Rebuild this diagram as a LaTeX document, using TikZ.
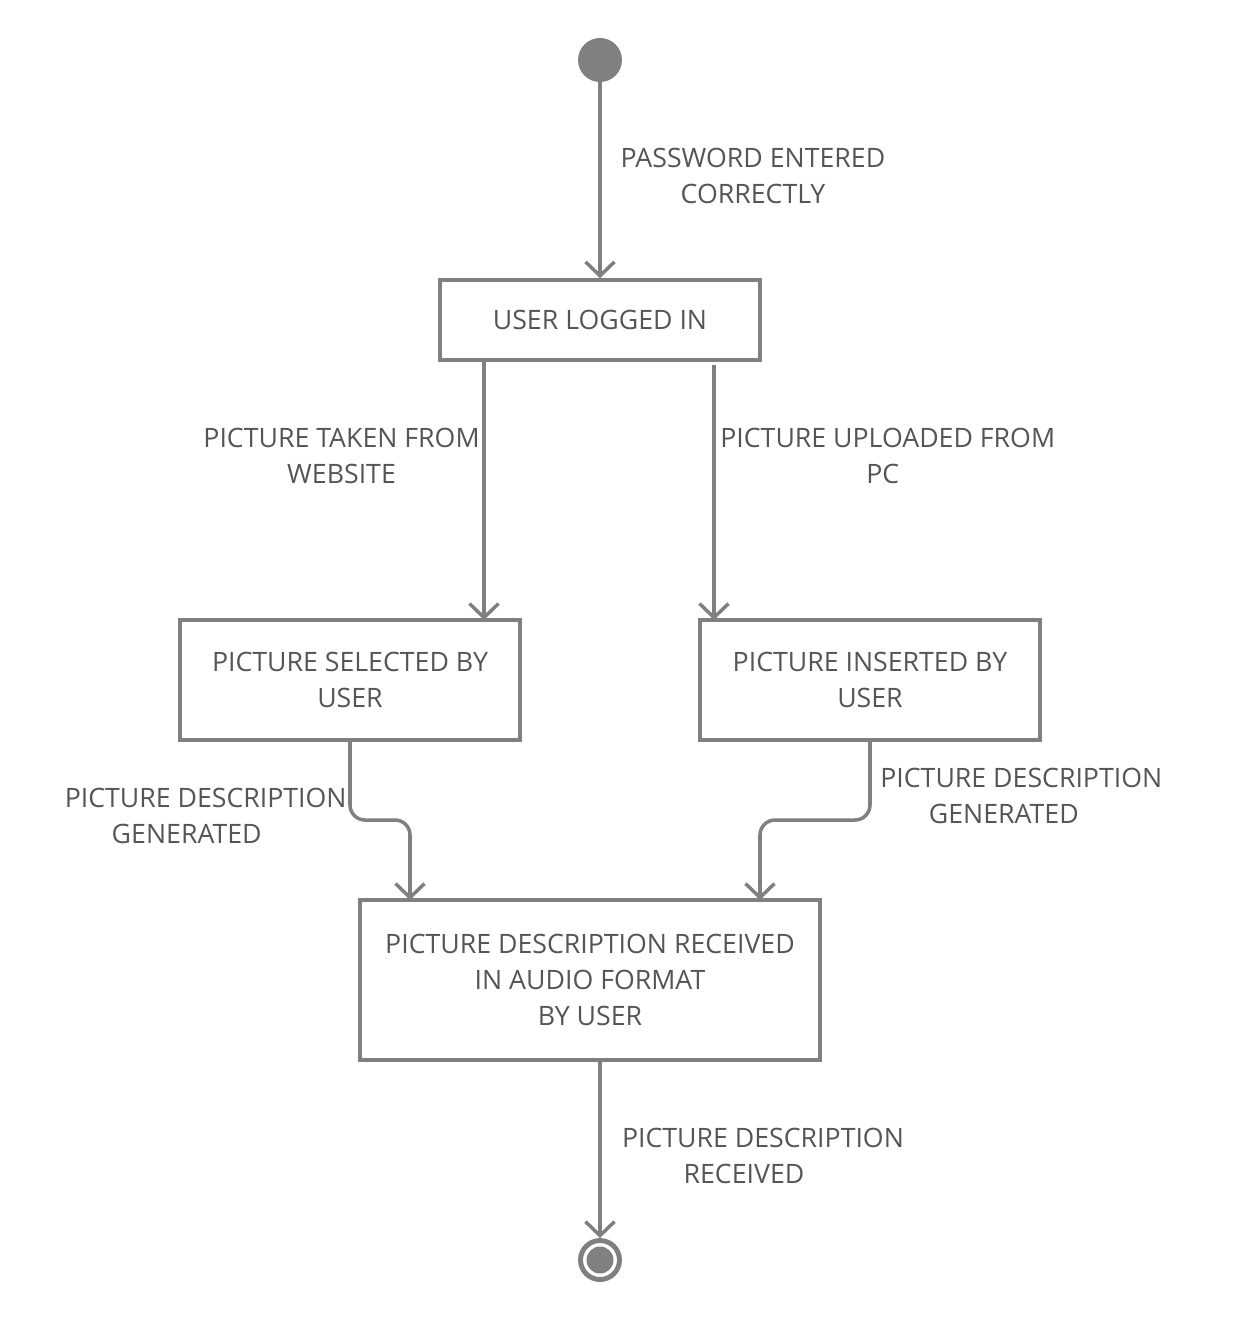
\documentclass[tikz,border=0pt]{standalone}
\usepackage{fontspec}
\setmainfont{Open Sans}
\usepackage{tikz}
\usetikzlibrary{arrows.meta}
\usetikzlibrary{positioning}
\definecolor{linegray}{HTML}{808080}
\definecolor{textgray}{HTML}{555555}
\tikzset{
    state/.style={
           rectangle,
           draw=linegray, line width=2pt,
           inner sep=2pt,
           text=textgray,
           align=center,
           font=\fontsize{15.2}{20.4}\selectfont,
           },
}
\tikzset{
    guard/.style={
           text=textgray,
           align=center,
           inner sep=0pt,
           font=\fontsize{15.2}{20.4}\selectfont,
           },
}
\tikzset{
    flow/.style={
           draw=linegray, line width=2pt,
           -{Straight Barb[length=0.28cm,width=0.58cm,line width=2pt]},
           },
}
\begin{document}
\begin{tikzpicture}[x=0.02cm,y=-0.02cm]
\useasboundingbox (0,0) rectangle (1241,1320);
\node[circle,fill=linegray,minimum size=0.88cm,inner sep=0pt](start) at (600,60){};
\node[state,minimum width=6.4cm,minimum height=1.6cm](login) at (600,320){USER LOGGED IN};
\node[state,minimum width=6.8cm,minimum height=2.4cm](sel) at (350,680){PICTURE SELECTED BY\\USER};
\node[state,minimum width=6.8cm,minimum height=2.4cm](ins) at (870,680){PICTURE INSERTED BY\\USER};
\node[state,minimum width=9.2cm,minimum height=3.2cm](recv) at (590,980){PICTURE DESCRIPTION RECEIVED\\IN AUDIO FORMAT\\BY USER};
\node[circle,draw=linegray,line width=2.8pt,minimum size=0.78cm,inner sep=0pt](stop) at (600,1260){};
\node[circle,fill=linegray,minimum size=0.54cm,inner sep=0pt] at (stop){};
% connector ends
\coordinate (loginL) at (484,360);
\coordinate (selT) at (484,620);
\coordinate (loginR) at (714,365);
\coordinate (insT) at (714,620);
\coordinate (kL) at (380,820);
\coordinate (recvL) at (410,900);
\coordinate (kR) at (840,820);
\coordinate (recvR) at (760,900);
\coordinate (recvB) at (600,1060);
% guards
\node[guard](g1) at (753,176){PASSWORD ENTERED\\CORRECTLY};
\node[guard,anchor=east](g2) at (480,456){PICTURE TAKEN FROM\\WEBSITE};
\node[guard,anchor=west](g3) at (720,456){PICTURE UPLOADED FROM\\PC\hspace*{0.2cm}};
\node[guard,anchor=east](g4) at (347,816){PICTURE DESCRIPTION\\GENERATED\hspace*{0.76cm}};
\node[guard,anchor=west](g5) at (880,796){PICTURE DESCRIPTION\\GENERATED\hspace*{0.7cm}};
\node[guard](g6) at (763,1156){PICTURE DESCRIPTION\\RECEIVED\hspace*{0.76cm}};
\path (start) edge[flow] (login);
\path (loginL) edge[flow] (selT);
\path (loginR) edge[flow] (insT);
\draw[flow,rounded corners=0.3cm] (sel.south) |- (kL) -| (recvL);
\draw[flow,rounded corners=0.3cm] (ins.south) |- (kR) -| (recvR);
\path (recvB) edge[flow] (stop);
\end{tikzpicture}
\end{document}
